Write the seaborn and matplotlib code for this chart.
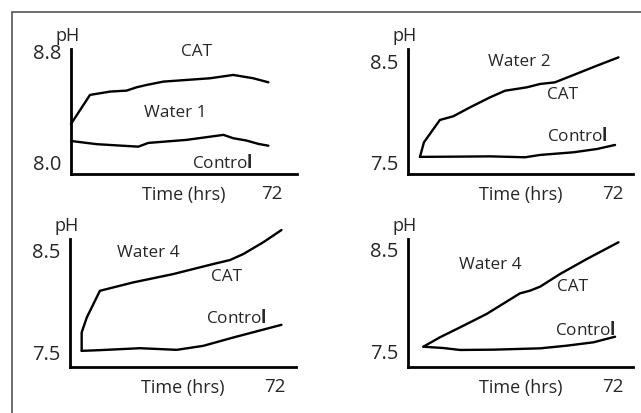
import pandas as pd
import matplotlib.pyplot as plt
import seaborn as sns
from matplotlib.patches import Rectangle

# Values (time in hours, pH)
p1_cat_t = [0, 6.8, 14.0, 19.9, 23.5, 27.1, 33.1, 41.4, 49.8, 58.1, 65.3, 70.7]
p1_cat_ph = [8.274, 8.483, 8.507, 8.514, 8.538, 8.555, 8.579, 8.591, 8.603, 8.627, 8.603, 8.574]
p1_ctl_t = [0, 9.2, 24.1, 27.7, 41.4, 54.6, 58.1, 62.9, 67.1, 70.7]
p1_ctl_ph = [8.151, 8.128, 8.110, 8.137, 8.159, 8.195, 8.171, 8.154, 8.130, 8.117]

p2_cat_t = [4.2, 5.6, 11.2, 15.9, 21.8, 28.8, 34.1, 41.7, 46.4, 51.6, 58.1, 66.3, 73.9]
p2_cat_ph = [7.55, 7.693, 7.912, 7.948, 8.036, 8.134, 8.199, 8.232, 8.265, 8.281, 8.353, 8.444, 8.526]
p2_ctl_t = [4.2, 15.9, 28.8, 41.1, 46.4, 58.1, 66.3, 72.7]
p2_ctl_ph = [7.55, 7.552, 7.555, 7.546, 7.569, 7.595, 7.627, 7.667]

p3_cat_t = [4.1, 4.1, 5.9, 10.5, 22.2, 36.3, 50.3, 56.2, 60.9, 67.9, 74.3]
p3_cat_ph = [7.503, 7.683, 7.830, 8.091, 8.173, 8.255, 8.353, 8.392, 8.451, 8.566, 8.686]
p3_ctl_t = [4.1, 10.5, 24.6, 37.5, 46.8, 57.4, 74.3]
p3_ctl_ph = [7.503, 7.510, 7.529, 7.513, 7.552, 7.634, 7.758]

p4_cat_t = [5.4, 11.2, 18.3, 27.6, 39.3, 42.8, 46.4, 53.4, 62.8, 73.9]
p4_cat_ph = [7.542, 7.634, 7.732, 7.863, 8.065, 8.091, 8.131, 8.255, 8.402, 8.566]
p4_ctl_t = [5.4, 12.4, 18.3, 30.0, 46.4, 55.7, 65.1, 72.7]
p4_ctl_ph = [7.542, 7.529, 7.510, 7.513, 7.526, 7.552, 7.585, 7.640]

water_names = ["Water 1", "Water 2", "Water 4", "Water 4"]
ytick_vals = [[8.0, 8.8], [7.5, 8.5], [7.5, 8.5], [7.5, 8.5]]
xtick_vals = [72]

sns.set_style("white")
plt.rcParams['font.family'] = ['Open Sans', 'DejaVu Sans']
plt.rcParams['mathtext.fontset'] = 'custom'
plt.rcParams['mathtext.rm'] = 'Open Sans'
plt.rcParams['mathtext.bf'] = 'Open Sans:bold'

fig = plt.figure(figsize=(6.41, 4.14), dpi=100)
W, H = 641, 414

def box(l, r, t, b):
    return [l / W, 1 - b / H, (r - l) / W, (b - t) / H]

panels = [
    dict(rect=box(71, 297, 50, 175), xlim=(0, 80.95), ylim=(7.913, 8.814),
         cat=(p1_cat_t, p1_cat_ph), ctl=(p1_ctl_t, p1_ctl_ph),
         lab=[(45.1, 8.80), (37.3, 8.36), (54.1, 8.0)]),
    dict(rect=box(408, 633, 50, 175), xlim=(0, 79.0), ylim=(7.382, 8.608),
         cat=(p2_cat_t, p2_cat_ph), ctl=(p2_ctl_t, p2_ctl_ph),
         lab=[(54.4, 8.167), (39.0, 8.49), (59.4, 7.765)]),
    dict(rect=box(70, 296, 240, 368), xlim=(0, 79.4), ylim=(7.345, 8.598),
         cat=(p3_cat_t, p3_cat_ph), ctl=(p3_ctl_t, p3_ctl_ph),
         lab=[(55.1, 8.235), (27.4, 8.47), (58.6, 7.833)]),
    dict(rect=box(408, 633, 240, 368), xlim=(0, 79.0), ylim=(7.343, 8.598),
         cat=(p4_cat_t, p4_cat_ph), ctl=(p4_ctl_t, p4_ctl_ph),
         lab=[(57.6, 8.137), (28.8, 8.353), (62.2, 7.716)]),
]

fs = 12.3
tfs = 13
yfs = 14.5
for i, p in enumerate(panels):
    ax = fig.add_axes(p["rect"])
    ax.set_facecolor("none")
    for key in ["cat", "ctl"]:
        df = pd.DataFrame({"t": p[key][0], "ph": p[key][1]})
        sns.lineplot(data=df, x="t", y="ph", sort=False, estimator=None,
                     color="black", linewidth=1.7, ax=ax, clip_on=False)
    ax.set_xlim(*p["xlim"])
    ax.set_ylim(*p["ylim"])
    ax.set_yticks(ytick_vals[i])
    ax.set_yticklabels([f"{v:.1f}" for v in ytick_vals[i]])
    ax.set_xticks(xtick_vals)
    ax.set_xticklabels([str(v) for v in xtick_vals])
    ax.tick_params(axis="y", length=0, pad=7, labelsize=yfs)
    ax.tick_params(axis="x", length=0, pad=7, labelsize=13.5)
    ax.set_ylabel("")
    ax.set_xlabel("Time (hrs)", fontsize=tfs)
    ax.xaxis.label.set_va("center")
    ax.xaxis.set_label_coords(0.5, -0.16)
    for s in ["top", "right"]:
        ax.spines[s].set_visible(False)
    for s in ["left", "bottom"]:
        ax.spines[s].set_color("black")
        ax.spines[s].set_linewidth(2.0)
    ax.text(-0.015, 1.04, "pH", transform=ax.transAxes, ha="center",
            va="bottom", fontsize=tfs)
    (cx, cy), (wx, wy), (kx, ky) = p["lab"]
    ax.text(cx, cy, "CAT", ha="center", va="center", fontsize=fs)
    ax.text(wx, wy, water_names[i], ha="center", va="center", fontsize=fs)
    ax.text(kx, ky, r"Contro$\mathbf{l}$", ha="center", va="center", fontsize=fs)

# outer frame (only left and top edges fall inside the image)
top = 1 - 13 / H
fig.add_artist(Rectangle((12 / W, -0.2), 1.2, top + 0.2,
                         transform=fig.transFigure, fill=False,
                         edgecolor="#555555", linewidth=1.2))

fig.savefig("out.png", dpi=100)
